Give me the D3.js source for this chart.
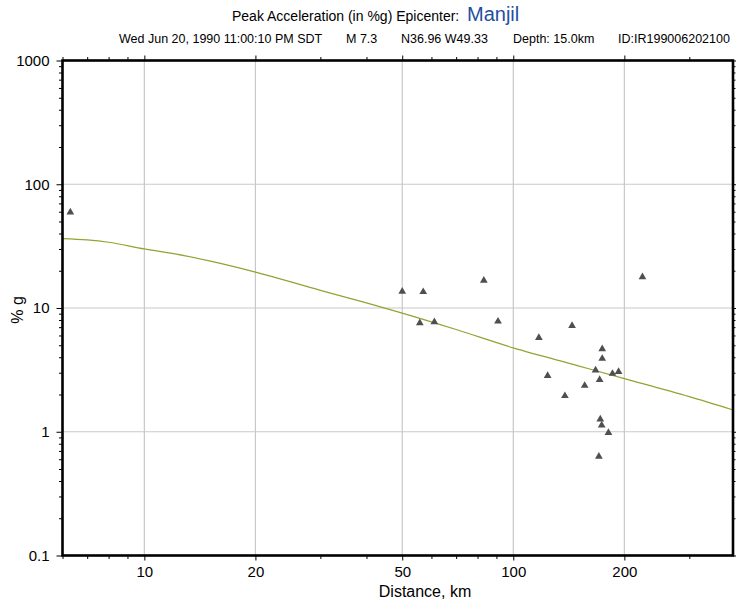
<!DOCTYPE html>
<html>
<head>
<meta charset="utf-8">
<script src="https://cdn.jsdelivr.net/npm/d3@7"></script>
<style>
  body { margin: 0; background: #fff; }
  svg { display: block; font-family: "Liberation Sans", Arial, sans-serif; }
</style>
</head>
<body>
<div id="chart"></div>
<script>
// station distances (km) and observed peak acceleration (%g)
const stationDist = [6.3, 50.0, 57.0, 55.8, 61.1, 83.2, 90.9, 117.3, 144.3, 123.9, 138, 156.1,
  167.1, 171.4, 174.2, 174.2, 185.7, 192.9, 172.1, 173.6, 181.1, 170.6, 223.9];
const stationPga = [59.4, 13.6, 13.5, 7.57, 7.71, 16.7, 7.8, 5.76, 7.2, 2.84, 1.95, 2.36,
  3.14, 2.63, 4.67, 3.90, 2.95, 3.05, 1.26, 1.13, 0.98, 0.63, 17.8];

// attenuation curve
const curveDist = [6, 7, 8, 10, 12, 15, 20, 30, 40, 50, 70, 100, 150, 200, 300, 394];
const curvePga = [36.4, 35.5, 34, 30, 27.5, 24, 19.5, 13.9, 11, 9.1, 6.7, 4.76, 3.41, 2.69, 1.92, 1.5];

const xMajor = [10, 20, 50, 100, 200];
const xMinor = [6, 7, 8, 9, 30, 40, 60, 70, 80, 90, 300];
const yMajor = [0.1, 1, 10, 100, 1000];
const yTickLabels = ['0.1', '1', '10', '100', '1000'];

const width = 736, height = 603;
const margin = { top: 60.5, right: 3, bottom: 47.5, left: 62.5 };
const plotW = width - margin.left - margin.right;
const plotH = height - margin.top - margin.bottom;

const svg = d3.select('#chart').append('svg')
  .attr('width', width)
  .attr('height', height);

const x = d3.scaleLog().domain([6, 394]).range([0, plotW]);
const y = d3.scaleLog().domain([0.1, 1000]).range([plotH, 0]);

const yMinor = [];
[0.1, 1, 10, 100].forEach(d => { for (let k = 2; k <= 9; k++) yMinor.push(d * k); });

const g = svg.append('g').attr('transform', `translate(${margin.left},${margin.top})`);

// grid
g.append('g').selectAll('line').data(xMajor).enter().append('line')
  .attr('x1', d => x(d)).attr('x2', d => x(d))
  .attr('y1', 0).attr('y2', plotH)
  .style('stroke', '#c8c8c8').style('stroke-width', 1.2);
g.append('g').selectAll('line').data([1, 10, 100]).enter().append('line')
  .attr('x1', 0).attr('x2', plotW)
  .attr('y1', d => y(d)).attr('y2', d => y(d))
  .style('stroke', '#c8c8c8').style('stroke-width', 1.2);

// ticks on all four sides
function tickAxis(axisFn, values, size, transform) {
  const ax = g.append('g')
    .attr('transform', transform || null)
    .call(axisFn.tickValues(values).tickSize(size).tickFormat(''));
  ax.select('.domain').remove();
  ax.selectAll('line').style('stroke', '#000').style('stroke-width', 1);
  return ax;
}
tickAxis(d3.axisBottom(x), xMajor, 5, `translate(0,${plotH})`);
tickAxis(d3.axisBottom(x), xMinor, 3.5, `translate(0,${plotH})`);
tickAxis(d3.axisTop(x), xMajor, 5);
tickAxis(d3.axisTop(x), xMinor, 3.5);
tickAxis(d3.axisLeft(y), yMajor, 6);
tickAxis(d3.axisLeft(y), yMinor, 3.5);
tickAxis(d3.axisRight(y), yMajor, 3, `translate(${plotW},0)`);
tickAxis(d3.axisRight(y), yMinor, 2.5, `translate(${plotW},0)`);

// tick labels
const xLab = g.append('g')
  .attr('transform', `translate(0,${plotH})`)
  .call(d3.axisBottom(x).tickValues(xMajor).tickSize(0).tickPadding(11).tickFormat(d3.format('d')));
xLab.select('.domain').remove();
xLab.selectAll('text').style('font-size', '15px').style('fill', '#000')
  .style('font-family', '"Liberation Sans", Arial, sans-serif');

const yLab = g.append('g')
  .call(d3.axisLeft(y).tickValues(yMajor).tickSize(0).tickPadding(13)
    .tickFormat((d, i) => yTickLabels[i]));
yLab.select('.domain').remove();
yLab.selectAll('text').style('font-size', '15px').style('fill', '#000')
  .style('font-family', '"Liberation Sans", Arial, sans-serif');

// curve
const line = d3.line()
  .x((d, i) => x(curveDist[i]))
  .y(d => y(d))
  .curve(d3.curveMonotoneX);
g.append('path')
  .datum(curvePga)
  .attr('d', line)
  .style('fill', 'none')
  .style('stroke', '#8fa533')
  .style('stroke-width', 1.2);

// stations
g.append('g').selectAll('path').data(stationPga).enter().append('path')
  .attr('d', d3.symbol().type(d3.symbolTriangle).size(26))
  .attr('transform', (d, i) => `translate(${x(stationDist[i])},${y(d)})`)
  .style('fill', '#4f4f4f');

// frame
g.append('rect')
  .attr('width', plotW).attr('height', plotH)
  .style('fill', 'none').style('stroke', '#000').style('stroke-width', 2.6);

// axis titles
svg.append('text')
  .attr('x', 425).attr('y', 597)
  .attr('text-anchor', 'middle')
  .style('font-size', '16px')
  .text('Distance, km');

svg.append('text')
  .attr('transform', 'rotate(-90)')
  .attr('x', -310).attr('y', 23)
  .attr('text-anchor', 'middle')
  .style('font-size', '16px')
  .text('% g');

// titles
const title = svg.append('text').attr('x', 232).attr('y', 21).style('font-size', '14px');
title.append('tspan').text('Peak Acceleration (in %g) Epicenter:  ').attr('xml:space', 'preserve');
title.append('tspan').text('Manjil').style('font-size', '20px').style('fill', '#1f4fa0');

const subParts = ['Wed Jun 20, 1990 11:00:10 PM SDT', 'M 7.3', 'N36.96 W49.33', 'Depth: 15.0km', 'ID:IR199006202100'];
const subX = [119, 346, 401, 513, 618];
svg.append('g').selectAll('text').data(subParts).enter().append('text')
  .attr('x', (d, i) => subX[i]).attr('y', 43)
  .style('font-size', '12.5px')
  .text(d => d);
</script>
</body>
</html>
